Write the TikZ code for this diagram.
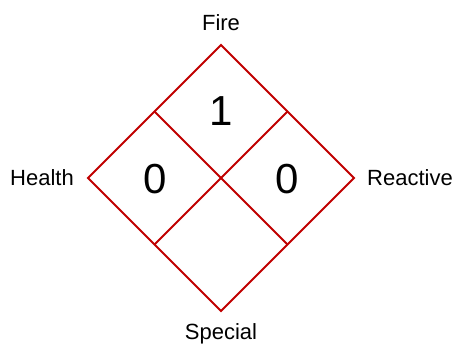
\documentclass[tikz,border=0pt]{standalone}
\usepackage{fontspec}
\setmainfont{Liberation Sans}
\usetikzlibrary{calc}
\definecolor{nfpared}{RGB}{192,0,0}
\begin{document}
\begin{tikzpicture}[x=1pt,y=-1pt,
  edge/.style={draw=nfpared,line width=1.9pt,line join=miter},
  lbl/.style={inner sep=0pt,anchor=base,font=\fontsize{22}{22}\selectfont},
  num/.style={inner sep=0pt,anchor=base,font=\fontsize{42}{42}\selectfont}]
\useasboundingbox (0,0) rectangle (454,343);
\coordinate (T) at (221,45);
\coordinate (L) at (88,178);
\coordinate (R) at (354,178);
\coordinate (B) at (221,311);
\coordinate (TL) at ($(T)!0.5!(L)$);
\coordinate (TR) at ($(T)!0.5!(R)$);
\coordinate (BL) at ($(B)!0.5!(L)$);
\coordinate (BR) at ($(B)!0.5!(R)$);
\draw[edge] (T) -- (R) -- (B) -- (L) -- cycle;
\draw[edge] (TL) -- (BR);
\draw[edge] (TR) -- (BL);
\node[lbl] (fire) at (221,30.3) {Fire};
\node[lbl] (health) at (42,185.5) {Health};
\node[lbl] (reactive) at (410,185.5) {Reactive};
\node[lbl] (special) at (221,339.5) {Special};
\node[num] (n1) at (221,125) {1};
\node[num] (n2) at (155,193) {0};
\node[num] (n3) at (287,193) {0};
\end{tikzpicture}
\end{document}
